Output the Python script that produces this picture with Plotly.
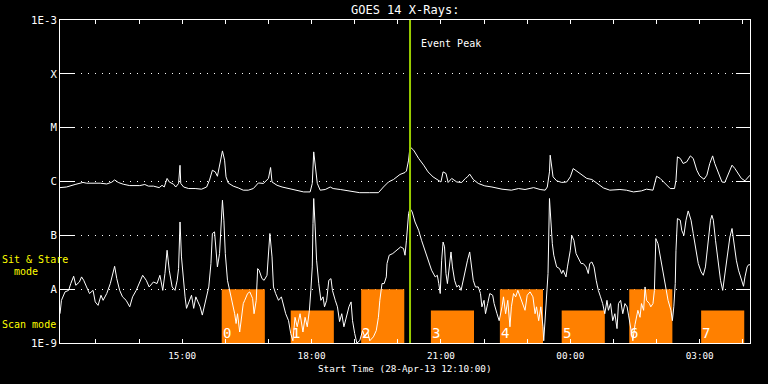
import pandas as pd
import plotly.graph_objects as go

START = "2013-04-28 12:10"
END = "2013-04-29 04:10"

# GOES 14 long channel (1-8 A), minutes after start / flux W m^-2
long_min = [0, 9, 21, 32, 37, 46, 56, 65, 72, 76,
            81, 88, 97, 111, 118, 123, 130, 138, 142, 145,
            149, 152, 158, 161, 165, 167, 168, 172, 179, 188,
            197, 204, 208, 212, 216, 219, 223, 226, 229, 231,
            234, 241, 248, 255, 262, 269, 276, 283, 290, 293,
            295, 302, 309, 318, 326, 339, 348, 351, 353, 356,
            358, 362, 369, 376, 380, 390, 404, 417, 431, 443,
            450, 457, 464, 469, 473, 480, 482, 485, 487, 492,
            499, 506, 512, 519, 526, 530, 533, 537, 540, 545,
            552, 559, 564, 567, 570, 575, 582, 591, 601, 615,
            628, 638, 647, 659, 668, 675, 678, 681, 682, 684,
            686, 691, 698, 705, 710, 714, 719, 726, 733, 740,
            747, 756, 765, 779, 788, 798, 809, 816, 825, 827,
            830, 835, 842, 849, 855, 857, 859, 863, 867, 872,
            877, 881, 886, 890, 896, 900, 904, 908, 911, 916,
            921, 925, 930, 935, 939, 944, 948, 953, 958, 960]
long_flux = [7.7e-7, 7.9e-7, 8.8e-7, 9.6e-7, 9.3e-7, 9.4e-7, 9.3e-7, 9.0e-7, 9.7e-7, 1.07e-6,
             9.6e-7, 8.9e-7, 8.4e-7, 8.4e-7, 8.8e-7, 8.2e-7, 8.2e-7, 7.7e-7, 8.5e-7, 7.9e-7,
             1.14e-6, 9.8e-7, 8.9e-7, 7.9e-7, 9.2e-7, 2.0e-6, 9.2e-7, 7.9e-7, 7.4e-7, 7.4e-7,
             7.2e-7, 7.9e-7, 1.06e-6, 1.62e-6, 1.51e-6, 1.25e-6, 2.32e-6, 3.7e-6, 2.49e-6, 1.22e-6,
             9.4e-7, 8.2e-7, 7.6e-7, 6.9e-7, 6.9e-7, 7.4e-7, 9.4e-7, 9.2e-7, 1.14e-6, 1.82e-6,
             9.8e-7, 8.5e-7, 7.9e-7, 7.4e-7, 6.9e-7, 6.4e-7, 6.4e-7, 9.2e-7, 3.55e-6, 1.41e-6,
             9.2e-7, 6.9e-7, 7.1e-7, 7.9e-7, 7.4e-7, 7.1e-7, 6.7e-7, 6.2e-7, 6.2e-7, 6.2e-7,
             7.9e-7, 9.8e-7, 1.09e-6, 1.25e-6, 1.35e-6, 1.47e-6, 1.57e-6, 2.49e-6, 4.4e-6, 3.82e-6,
             2.68e-6, 2.01e-6, 1.51e-6, 1.22e-6, 1.06e-6, 9.8e-7, 1.51e-6, 1.41e-6, 9.6e-7, 1.14e-6,
             9.8e-7, 9.6e-7, 1.14e-6, 1.22e-6, 1.37e-6, 1.09e-6, 9.2e-7, 8.3e-7, 7.9e-7, 7.2e-7,
             6.9e-7, 7.4e-7, 7.1e-7, 7.7e-7, 7.1e-7, 6.9e-7, 7.9e-7, 1.51e-6, 3.08e-6, 2.01e-6,
             1.22e-6, 1.03e-6, 9.6e-7, 9.8e-7, 1.22e-6, 1.74e-6, 1.57e-6, 1.35e-6, 1.14e-6, 1.09e-6,
             9.4e-7, 7.6e-7, 6.9e-7, 7.1e-7, 6.9e-7, 6.4e-7, 6.7e-7, 7.2e-7, 6.9e-7, 9.2e-7,
             1.25e-6, 1.14e-6, 9.2e-7, 7.4e-7, 7.4e-7, 1.06e-6, 2.87e-6, 2.68e-6, 2.16e-6, 2.32e-6,
             2.99e-6, 2.68e-6, 1.62e-6, 1.27e-6, 1.10e-6, 1.31e-6, 2.16e-6, 2.99e-6, 2.16e-6, 1.41e-6,
             9.8e-7, 9.6e-7, 1.41e-6, 2.01e-6, 1.74e-6, 1.41e-6, 1.14e-6, 1.03e-6, 1.27e-6, 1.31e-6]

# GOES 14 short channel (0.5-4 A)
short_min = [0, 2, 7, 12, 15, 19, 22, 27, 30, 33,
             37, 41, 46, 49, 53, 57, 60, 65, 70, 73,
             76, 79, 83, 87, 92, 97, 101, 106, 110, 115,
             120, 124, 130, 135, 139, 143, 146, 149, 152, 156,
             160, 163, 165, 166, 167, 169, 172, 174, 176, 180,
             183, 186, 189, 192, 195, 198, 201, 204, 207, 210,
             212, 215, 217, 219, 222, 224, 226, 228, 230, 233,
             237, 240, 243, 245, 247, 250, 252, 255, 257, 261,
             264, 268, 270, 273, 275, 277, 281, 284, 288, 290,
             292, 295, 297, 300, 304, 308, 311, 314, 318, 321,
             324, 327, 330, 334, 338, 341, 344, 347, 349, 351,
             352, 353, 355, 357, 360, 363, 366, 368, 371, 374,
             377, 379, 383, 386, 389, 392, 395, 399, 402, 405,
             407, 410, 413, 417, 421, 424, 428, 431, 436, 440,
             443, 445, 448, 451, 454, 455, 458, 463, 468, 471,
             474, 478, 480, 482, 485, 487, 490, 494, 499, 503,
             508, 513, 517, 522, 525, 527, 529, 531, 533, 535,
             537, 539, 542, 544, 546, 549, 552, 555, 558, 561,
             564, 567, 570, 573, 575, 578, 582, 585, 587, 590,
             592, 595, 598, 602, 604, 608, 611, 615, 617, 620,
             623, 626, 628, 631, 634, 637, 640, 643, 647, 650,
             654, 658, 661, 663, 666, 669, 672, 673, 675, 677,
             679, 681, 683, 685, 687, 691, 695, 698, 700, 704,
             706, 710, 712, 715, 718, 721, 725, 728, 732, 735,
             737, 740, 743, 746, 749, 752, 755, 758, 761, 763,
             766, 769, 772, 775, 777, 780, 783, 786, 789, 791,
             794, 797, 800, 804, 807, 809, 812, 814, 816, 820,
             822, 825, 827, 828, 829, 832, 836, 839, 843, 846,
             850, 852, 854, 856, 857, 859, 863, 865, 868, 871,
             874, 878, 881, 884, 888, 892, 895, 898, 902, 905,
             907, 909, 912, 916, 919, 922, 925, 929, 932, 935,
             937, 941, 944, 948, 951, 953, 956, 958, 960]
short_flux = [3.5e-9, 6.2e-9, 8.9e-9, 9.5e-9, 1.27e-8, 1.74e-8, 1.18e-8, 1.36e-8, 1.69e-8, 1.46e-8,
              1.10e-8, 8.3e-9, 9.5e-9, 5.8e-9, 5.0e-9, 7.7e-9, 6.2e-9, 8.3e-9, 1.27e-8, 1.95e-8,
              2.66e-8, 1.57e-8, 9.5e-9, 7.2e-9, 6.2e-9, 4.7e-9, 7.2e-9, 9.5e-9, 1.27e-8, 1.81e-8,
              1.46e-8, 1.10e-8, 1.36e-8, 1.27e-8, 1.81e-8, 9.5e-9, 1.95e-8, 5.28e-8, 2.25e-8, 1.10e-8,
              9.5e-9, 1.46e-8, 2.41e-8, 6.1e-8, 1.77e-7, 3.97e-8, 1.10e-8, 7.2e-9, 4.4e-9, 6.2e-9,
              7.7e-9, 4.4e-9, 7.2e-9, 5.8e-9, 4.7e-9, 3.3e-9, 5.0e-9, 7.2e-9, 1.10e-8, 2.99e-8,
              1.08e-7, 1.16e-7, 5.28e-8, 2.59e-8, 4.59e-8, 1.91e-7, 4.49e-7, 1.91e-7, 4.59e-8, 1.46e-8,
              8.3e-9, 5.4e-9, 3.5e-9, 2.3e-9, 3.5e-9, 1.6e-9, 2.5e-9, 5.4e-9, 6.2e-9, 8.3e-9,
              8.9e-9, 6.7e-9, 3.5e-9, 6.2e-9, 2.41e-8, 2.25e-8, 1.57e-8, 1.46e-8, 1.81e-8, 3.97e-8,
              1.08e-7, 3.97e-8, 1.10e-8, 8.3e-9, 6.2e-9, 7.2e-9, 4.7e-9, 3.5e-9, 2.6e-9, 1.5e-9,
              1.1e-9, 3.0e-9, 2.0e-9, 3.5e-9, 1.6e-9, 3.0e-9, 2.0e-9, 4.05e-9, 9.5e-9, 2.59e-8,
              1.66e-7, 4.83e-7, 1.43e-7, 3.45e-8, 1.27e-8, 6.2e-9, 7.2e-9, 4.7e-9, 6.2e-9, 1.46e-8,
              1.57e-8, 9.5e-9, 6.2e-9, 4.7e-9, 2.5e-9, 3.5e-9, 2.0e-9, 3.5e-9, 4.7e-9, 5.8e-9,
              2.6e-9, 1.5e-9, 1.0e-9, 1.1e-9, 1.7e-9, 1.3e-9, 1.6e-9, 1.1e-9, 1.3e-9, 1.7e-9,
              3.0e-9, 6.2e-9, 1.27e-8, 1.27e-8, 1.69e-8, 2.99e-8, 4.27e-8, 4.59e-8, 5.28e-8, 5.68e-8,
              6.1e-8, 5.68e-8, 4.27e-8, 8.1e-8, 2.54e-7, 3.15e-7, 2.72e-7, 1.77e-7, 1.24e-7, 8.1e-8,
              5.28e-8, 3.45e-8, 2.25e-8, 1.69e-8, 1.81e-8, 1.27e-8, 8.3e-9, 3.45e-8, 7.5e-8, 6.1e-8,
              1.95e-8, 1.27e-8, 2.59e-8, 4.91e-8, 2.59e-8, 1.46e-8, 1.10e-8, 1.18e-8, 9.5e-9, 1.46e-8,
              2.59e-8, 3.45e-8, 4.91e-8, 2.59e-8, 1.46e-8, 1.10e-8, 1.10e-8, 8.3e-9, 4.7e-9, 6.2e-9,
              3.5e-9, 5.4e-9, 8.3e-9, 7.7e-9, 5.4e-9, 3.5e-9, 2.6e-9, 4.7e-9, 7.2e-9, 3.5e-9,
              6.2e-9, 2.0e-9, 4.7e-9, 8.3e-9, 7.2e-9, 9.5e-9, 7.2e-9, 5.4e-9, 4.05e-9, 7.7e-9,
              8.9e-9, 7.2e-9, 3.5e-9, 4.7e-9, 2.6e-9, 4.7e-9, 2.0e-9, 1.1e-9, 2.6e-9, 9.5e-9,
              1.95e-8, 4.83e-7, 1.43e-7, 7.0e-8, 4.27e-8, 2.59e-8, 2.41e-8, 1.95e-8, 2.25e-8, 1.69e-8,
              2.59e-8, 5.28e-8, 1.0e-7, 8.1e-8, 4.59e-8, 3.7e-8, 2.99e-8, 2.99e-8, 2.59e-8, 1.95e-8,
              2.99e-8, 3.2e-8, 2.59e-8, 1.46e-8, 9.5e-9, 7.2e-9, 5.4e-9, 3.5e-9, 6.2e-9, 4.05e-9,
              5.4e-9, 2.6e-9, 3.5e-9, 1.85e-9, 5.4e-9, 6.2e-9, 3.5e-9, 5.4e-9, 4.7e-9, 3.3e-9,
              2.0e-9, 1.1e-9, 2.2e-9, 4.05e-9, 3.0e-9, 5.4e-9, 4.05e-9, 1.10e-8, 6.2e-9, 5.4e-9,
              4.7e-9, 5.4e-9, 9.5e-9, 5.28e-8, 8.7e-8, 7.0e-8, 3.45e-8, 1.95e-8, 1.10e-8, 6.2e-9,
              4.05e-9, 2.6e-9, 4.7e-9, 1.27e-8, 5.28e-8, 2.05e-7, 1.91e-7, 1.24e-7, 1.0e-7, 1.91e-7,
              2.84e-7, 1.91e-7, 1.08e-7, 6.1e-8, 2.99e-8, 2.09e-8, 1.81e-8, 2.59e-8, 8.1e-8, 1.91e-7,
              2.36e-7, 1.91e-7, 8.1e-8, 2.59e-8, 1.46e-8, 9.5e-9, 1.95e-8, 5.28e-8, 9.3e-8, 1.34e-7,
              8.1e-8, 3.45e-8, 2.25e-8, 1.46e-8, 1.13e-8, 1.69e-8, 2.59e-8, 2.84e-8, 2.84e-8]

# observing windows
window_labels = ["0", "1", "2", "3", "4", "5", "6", "7"]
window_start = ["15:55", "17:31", "19:09", "20:46", "22:22", "23:48", "01:22", "03:02"]
window_end = ["16:55", "18:31", "20:09", "21:46", "23:22", "00:48", "02:22", "04:02"]
window_mode = ["sit", "scan", "sit", "scan", "sit", "scan", "sit", "scan"]
mode_top = {"sit": 1e-8, "scan": 4e-9}
mode_floor = 1e-9

event_peak = "20:17"

hour_ticks = ["13:00", "14:00", "15:00", "16:00", "17:00", "18:00", "19:00", "20:00",
              "21:00", "22:00", "23:00", "00:00", "01:00", "02:00", "03:00", "04:00"]
hour_labels = ["15:00", "18:00", "21:00", "00:00", "03:00"]

y_tickvals = [1e-9, 1e-8, 1e-7, 1e-6, 1e-5, 1e-4, 1e-3]
y_ticktext = ["1E-9", "A", "B", "C", "M", "X", "1E-3"]

FONT = "DejaVu Sans Mono"


def clock(hhmm):
    day = "2013-04-28" if int(hhmm[:2]) >= 12 else "2013-04-29"
    return pd.Timestamp(f"{day} {hhmm}")


t0 = pd.Timestamp(START)
long_t = t0 + pd.to_timedelta(long_min, unit="min")
short_t = t0 + pd.to_timedelta(short_min, unit="min")

fig = go.Figure()
fig.add_trace(go.Scatter(x=long_t, y=long_flux, mode="lines",
                         line=dict(color="white", width=1), hoverinfo="skip"))
fig.add_trace(go.Scatter(x=short_t, y=short_flux, mode="lines",
                         line=dict(color="white", width=1), hoverinfo="skip"))

shapes = []
annotations = []
for lab, s, e, m in zip(window_labels, window_start, window_end, window_mode):
    shapes.append(dict(type="rect", xref="x", yref="y", x0=clock(s), x1=clock(e),
                       y0=mode_floor, y1=mode_top[m], fillcolor="#ff8000",
                       line=dict(width=0), layer="between"))
    annotations.append(dict(x=clock(s), xref="x", y=0, yref="paper", text=lab,
                            showarrow=False, xanchor="left", yanchor="middle",
                            xshift=-1, yshift=10,
                            font=dict(family=FONT, size=14, color="white")))

shapes.append(dict(type="line", xref="x", yref="paper", x0=clock(event_peak),
                   x1=clock(event_peak), y0=0, y1=1,
                   line=dict(color="#99cc00", width=2), layer="above"))

annotations += [
    dict(x=clock(event_peak), xref="x", y=1, yref="paper", text="Event Peak",
         showarrow=False, xanchor="left", yanchor="middle", xshift=9, yshift=-23,
         font=dict(family=FONT, size=10, color="white")),
    dict(x=0.5, xref="paper", y=1, yref="paper", text="GOES 14 X-Rays:",
         showarrow=False, xanchor="center", yanchor="middle", yshift=10,
         font=dict(family=FONT, size=12, color="white")),
    dict(x=0.5, xref="paper", y=0, yref="paper", text="Start Time (28-Apr-13 12:10:00)",
         showarrow=False, xanchor="center", yanchor="middle", yshift=-25,
         font=dict(family=FONT, size=9.3, color="white")),
    dict(x=0, xref="paper", y=0, yref="paper", text="Sit & Stare",
         showarrow=False, xanchor="left", yanchor="middle", xshift=-60, yshift=84,
         font=dict(family=FONT, size=10, color="#ffff00")),
    dict(x=0, xref="paper", y=0, yref="paper", text="  mode",
         showarrow=False, xanchor="left", yanchor="middle", xshift=-60, yshift=72,
         font=dict(family=FONT, size=10, color="#ffff00")),
    dict(x=0, xref="paper", y=0, yref="paper", text="Scan mode",
         showarrow=False, xanchor="left", yanchor="middle", xshift=-60, yshift=19,
         font=dict(family=FONT, size=10, color="#ffff00")),
]

fig.update_layout(
    width=768, height=384,
    paper_bgcolor="black", plot_bgcolor="black",
    margin=dict(l=60, r=18, t=20, b=41),
    showlegend=False,
    font=dict(family=FONT, color="white", size=10),
    shapes=shapes, annotations=annotations,
    xaxis=dict(type="date", range=[pd.Timestamp(START), pd.Timestamp(END)],
               tickmode="array", tickvals=[clock(h) for h in hour_ticks],
               ticktext=[h if h in hour_labels else "" for h in hour_ticks],
               ticks="inside", ticklen=4, tickcolor="white", tickwidth=1,
               showline=True, linecolor="white", linewidth=1, mirror="ticks",
               showgrid=False, zeroline=False, ticklabelstandoff=4,
               tickfont=dict(family=FONT, size=9.3, color="white")),
    yaxis=dict(type="log", range=[-9, -3], tickmode="array",
               tickvals=y_tickvals, ticktext=y_ticktext,
               ticks="inside", ticklen=14, tickcolor="white", tickwidth=1,
               showline=True, linecolor="white", linewidth=1, mirror="ticks",
               showgrid=True, gridcolor="white", gridwidth=1, griddash="1px,6px",
               zeroline=False,
               tickfont=dict(family=FONT, size=10.7, color="white")),
)

fig.write_html("out.html", config={"displayModeBar": False},
               post_script="document.body.style.margin='0';document.body.style.background='black';")
